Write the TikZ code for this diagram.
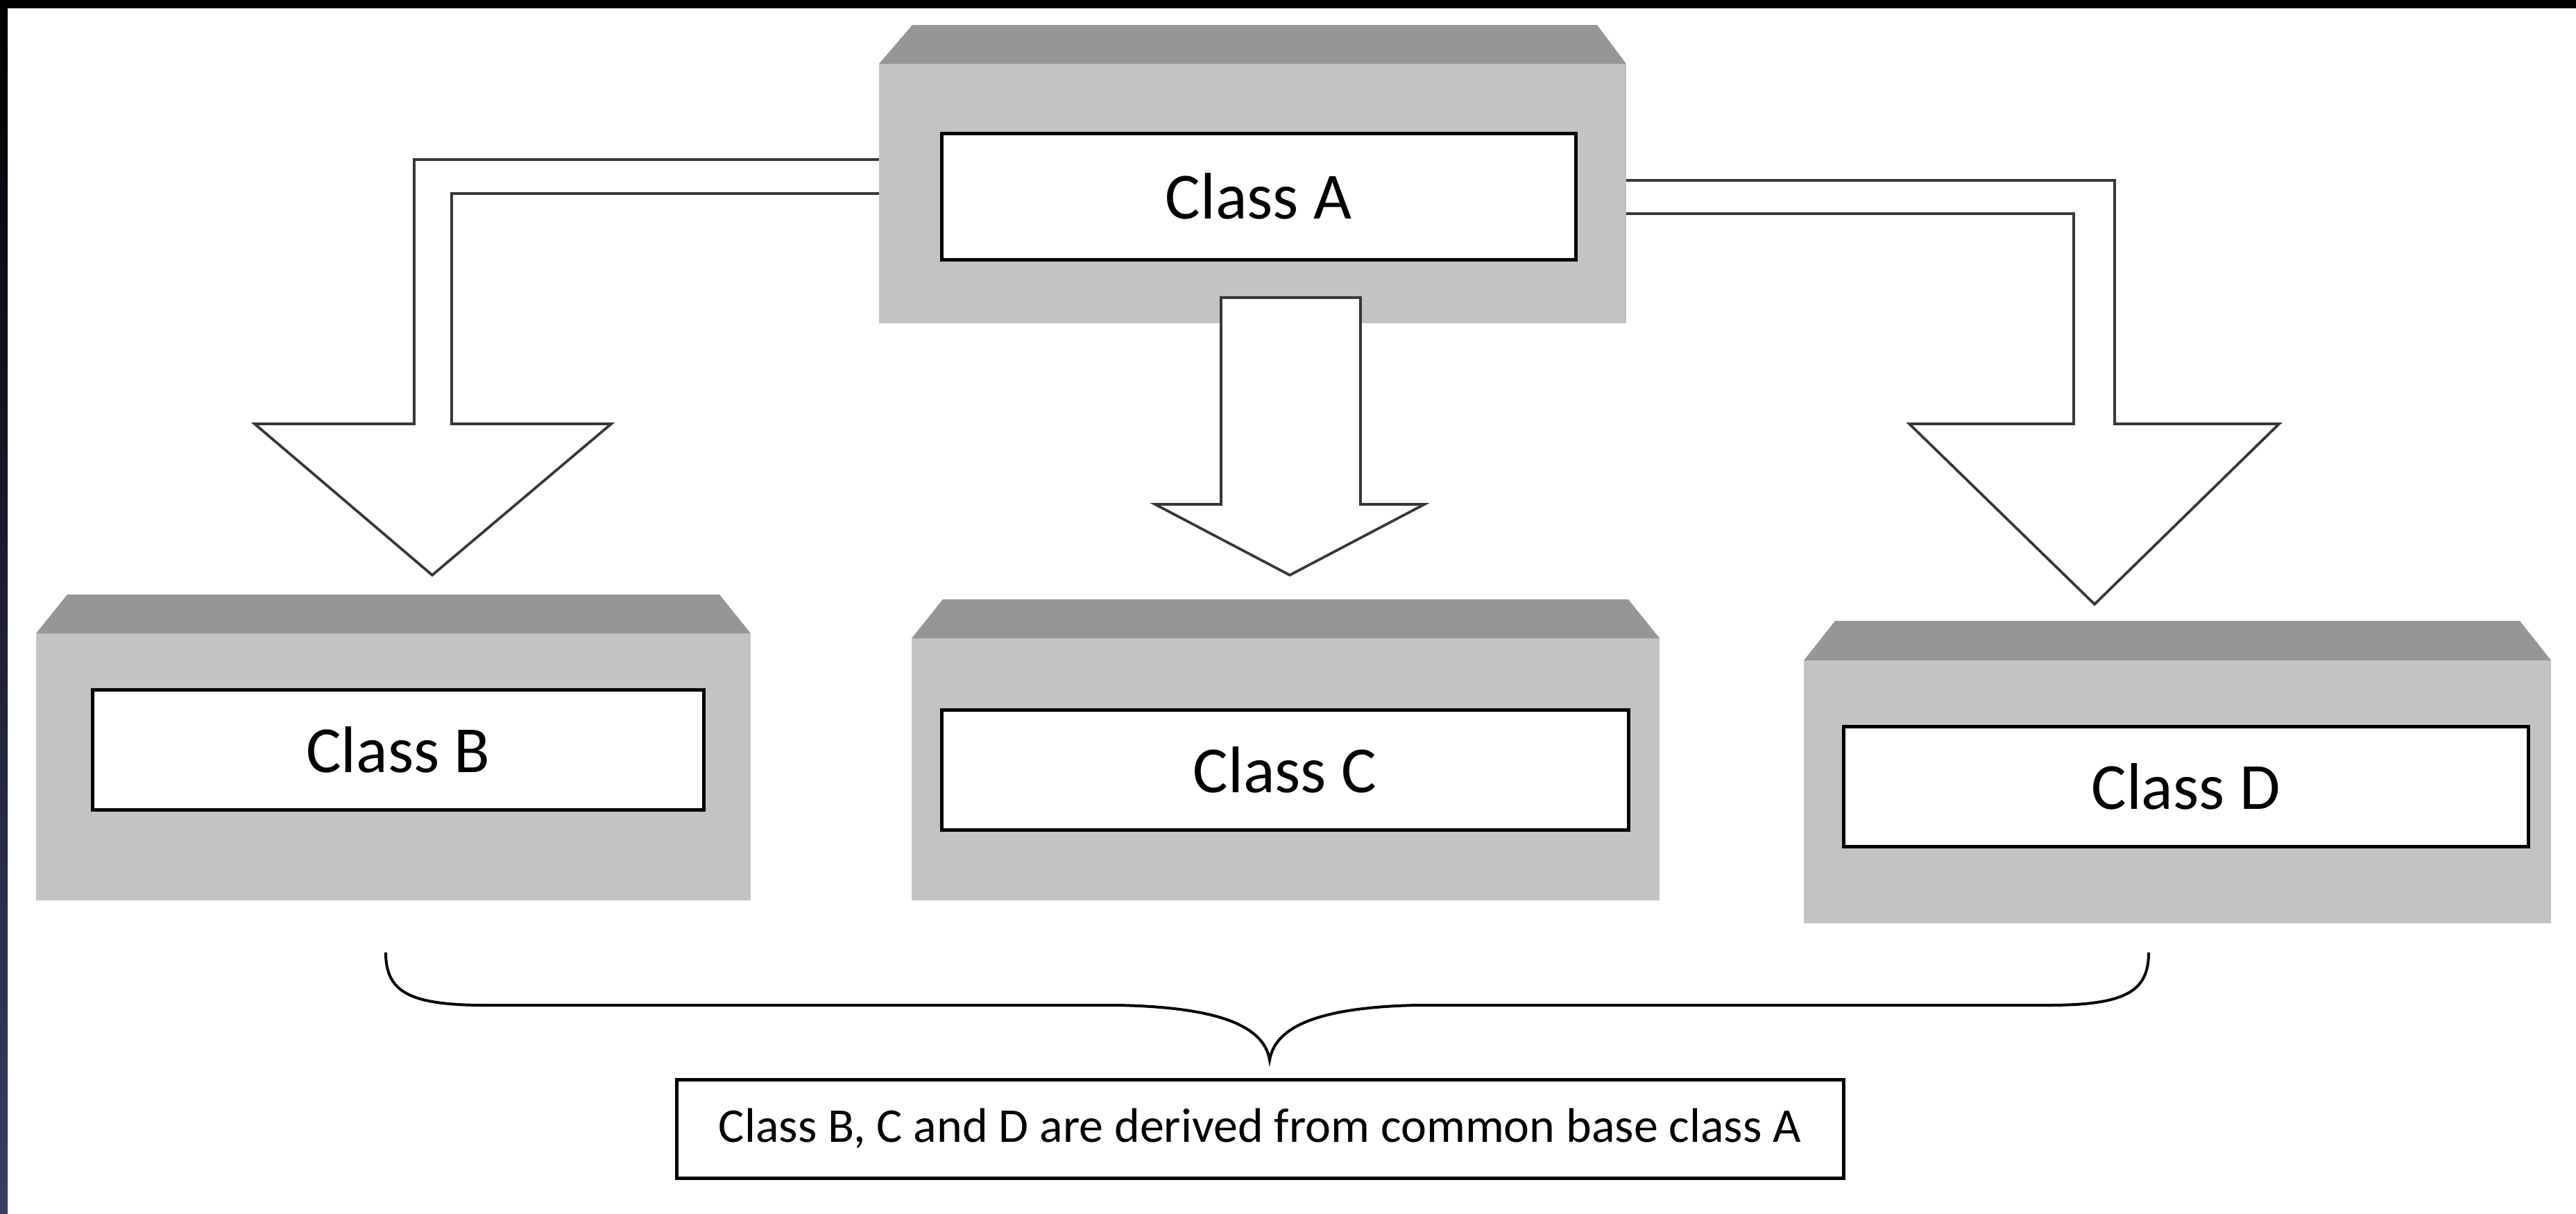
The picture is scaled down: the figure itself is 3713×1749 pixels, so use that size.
\documentclass[tikz,border=0pt]{standalone}
\usepackage{fontspec}
\setmainfont{Carlito}
\definecolor{topgray}{RGB}{150,150,150}
\definecolor{bodygray}{RGB}{195,195,195}
\definecolor{arrowline}{RGB}{55,55,55}
\definecolor{navyedge}{RGB}{58,61,102}
\definecolor{navymid}{RGB}{12,12,40}
\begin{document}
\begin{tikzpicture}[x=0.2pt,y=-0.2pt,
  blockarrow/.style={fill=white,draw=arrowline,line width=0.75pt,line join=miter},
  inbox/.style={draw=black,fill=white,line width=1pt,inner sep=0pt,text=black,
    font=\fontsize{19}{23}\selectfont},
  capbox/.style={draw=black,fill=white,line width=1pt,inner sep=0pt,text=black,
    font=\fontsize{14}{17}\selectfont},
  bracepath/.style={draw=black,line width=0.8pt}]
\useasboundingbox (0,0) rectangle (3713,1749);
\fill[white] (0,0) rectangle (3713,1749);
% frame edges
\fill[black] (0,0) rectangle (3713,12);
\shade[top color=black,middle color=navymid,bottom color=navyedge] (0,0) rectangle (11,1749);

% side block arrows (behind box A)
\draw[blockarrow] (1290,230) -- (597,230) -- (597,611) -- (367,611) -- (623,829)
  -- (881,611) -- (651,611) -- (651,279) -- (1290,279);
\draw[blockarrow] (2320,260) -- (3048,260) -- (3048,611) -- (3285,611) -- (3019,871)
  -- (2752,611) -- (2989,611) -- (2989,308) -- (2320,308);

% Box A
\fill[bodygray] (1267,92) rectangle (2344,466);
\fill[topgray] (1267,92) -- (1315,36) -- (2302,36) -- (2344,92) -- cycle;
\node[inbox,minimum width=182.8pt,minimum height=36.4pt] (A) at (1814,283) {Class A};

% centre block arrow
\draw[blockarrow] (1760,429) -- (1760,727) -- (1665,727) -- (1859,829) -- (2053,727)
  -- (1961,727) -- (1961,429) -- cycle;

% Box B
\fill[bodygray] (52,913) rectangle (1082,1298);
\fill[topgray] (52,913) -- (97,857) -- (1037,857) -- (1082,913) -- cycle;
\node[inbox,minimum width=176pt,minimum height=34.6pt] (B) at (574,1080.5) {Class B};

% Box C
\fill[bodygray] (1314,920) rectangle (2392,1298);
\fill[topgray] (1314,920) -- (1359,864) -- (2347,864) -- (2392,920) -- cycle;
\node[inbox,minimum width=198pt,minimum height=34.6pt] (C) at (1852,1109.5) {Class C};

% Box D
\fill[bodygray] (2600,952) rectangle (3677,1331);
\fill[topgray] (2600,952) -- (2645,895) -- (3632,895) -- (3677,952) -- cycle;
\node[inbox,minimum width=197.4pt,minimum height=34.6pt] (D) at (3150.5,1133.5) {Class D};

% brace
\draw[bracepath] (556,1373) .. controls (556,1430) and (590,1449) .. (700,1449)
  -- (1612,1449) .. controls (1760,1452) and (1822,1480) .. (1830,1528)
  .. controls (1838,1480) and (1900,1452) .. (2042,1449)
  -- (2950,1449) .. controls (3063,1449) and (3097,1430) .. (3097,1373);

% caption
\node[capbox,minimum width=336.4pt,minimum height=28.4pt] (cap) at (1816,1627)
  {Class B, C and D are derived from common base class A};
\end{tikzpicture}
\end{document}
